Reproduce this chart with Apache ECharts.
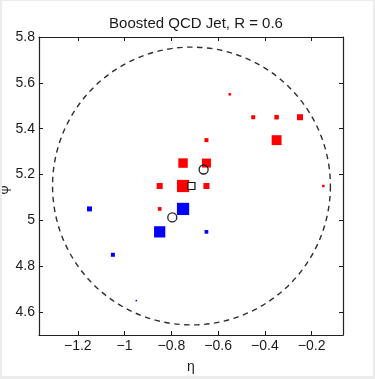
<!DOCTYPE html>
<html>
<head>
<meta charset="utf-8">
<script src="https://cdn.jsdelivr.net/npm/echarts@6/dist/echarts.min.js"></script>
<style>
  html, body { margin: 0; padding: 0; background: #ffffff; }
  #wrap { position: relative; width: 375px; height: 379px; }
  #chart { position: absolute; left: 0; top: 0; width: 375px; height: 379px; }
  #frame { position: absolute; left: 0; top: 0; width: 375px; height: 379px; box-sizing: border-box;
           border-style: solid; border-color: #ececec; border-width: 1px 2px 3px 2px; pointer-events: none; }
</style>
</head>
<body>
<div id="wrap"><div id="chart"></div><div id="frame"></div></div>
<script>
// Calorimeter cells of a boosted QCD jet in the (eta, phi) plane.
// Positive-weight cells (red)
const redEta = [-0.55, -0.45, -0.35, -0.25, -0.35, -0.65, -0.75, -0.65, -0.85, -0.75, -0.65, -0.85, -0.15];
const redPhi = [5.55, 5.45, 5.45, 5.45, 5.35, 5.35, 5.25, 5.25, 5.15, 5.15, 5.15, 5.05, 5.15];
const redEt  = [1.1, 2.8, 3.5, 6.3, 17, 2.8, 15.5, 14, 6.3, 26, 6.3, 2.4, 1.1];

// Negative-weight cells (blue)
const blueEta = [-0.75, -0.85, -0.65, -1.15, -1.05, -0.95];
const bluePhi = [5.05, 4.95, 4.95, 5.05, 4.85, 4.65];
const blueEt  = [26, 22, 2.4, 4.3, 2.8, 0.4];

// Subjet axes (open circles) and the jet axis (open square)
const subjetEta = [-0.662, -0.796];
const subjetPhi = [5.222, 5.013];
const jetEta = [-0.714];
const jetPhi = [5.15];
const jetR = 0.6;

// Axis ranges and tick labels
const etaRange = [-1.366, -0.066];
const phiRange = [4.5, 5.8];
const etaTicks = [-1.2, -1.0, -0.8, -0.6, -0.4, -0.2];
const phiTicks = [4.6, 4.8, 5.0, 5.2, 5.4, 5.6, 5.8];

const FONT = '"Liberation Sans", Arial, Helvetica, sans-serif';
const INK = '#1a1a1a';

function cellSize(et) { return 2.4 * Math.sqrt(et); }
function fmt(v) {
  const s = String(Math.round(v * 10) / 10);
  return s.replace('-', '\u2212');
}
function zip(a, b) { return a.map((v, i) => [v, b[i]]); }

const tickStyle = { show: true, inside: true, length: 4, lineStyle: { color: INK, width: 1 } };
const lineStyle = { show: true, onZero: false, lineStyle: { color: '#222', width: 1.2 } };

const chart = echarts.init(document.getElementById('chart'), null, { renderer: 'canvas' });
chart.setOption({
  animation: false,
  backgroundColor: 'transparent',
  title: {
    text: 'Boosted QCD Jet, R = 0.6',
    left: 191, top: 11, textAlign: 'center',
    textStyle: { fontFamily: FONT, fontSize: 15, fontWeight: 'normal', color: INK }
  },
  grid: { left: 39, top: 37, right: 32, bottom: 37, containLabel: false },
  xAxis: [{
    type: 'value', min: etaRange[0], max: etaRange[1], position: 'bottom',
    axisLine: lineStyle,
    axisTick: Object.assign({ customValues: etaTicks }, tickStyle),
    axisLabel: { customValues: etaTicks, formatter: fmt, margin: 4, fontFamily: FONT, fontSize: 14, color: INK },
    splitLine: { show: false },
    name: '\u03b7', nameLocation: 'middle', nameGap: 25,
    nameTextStyle: { fontFamily: FONT, fontSize: 14, color: INK }
  }, {
    type: 'value', min: etaRange[0], max: etaRange[1], position: 'top',
    axisLine: lineStyle,
    axisTick: Object.assign({ customValues: etaTicks }, tickStyle),
    axisLabel: { show: false }, splitLine: { show: false }
  }],
  yAxis: [{
    type: 'value', min: phiRange[0], max: phiRange[1], position: 'left',
    axisLine: lineStyle,
    axisTick: Object.assign({ customValues: phiTicks }, tickStyle),
    axisLabel: { customValues: phiTicks, formatter: fmt, margin: 4, fontFamily: FONT, fontSize: 14, color: INK },
    splitLine: { show: false }
  }, {
    type: 'value', min: phiRange[0], max: phiRange[1], position: 'right',
    axisLine: lineStyle,
    axisTick: Object.assign({ customValues: phiTicks }, tickStyle),
    axisLabel: { show: false }, splitLine: { show: false }
  }],
  graphic: [{
    type: 'text', x: 4, y: 190, rotation: Math.PI / 2,
    style: { text: '\u03c6', font: '14px ' + FONT, fill: INK, textAlign: 'center', textVerticalAlign: 'middle' }
  }],
  series: [{
    // jet cone of radius R around the jet axis
    type: 'custom', silent: true, z: 1,
    data: zip(jetEta, jetPhi),
    renderItem: function (params, api) {
      const c = api.coord([api.value(0), api.value(1)]);
      const s = api.size([jetR, jetR]);
      return {
        type: 'circle',
        shape: { cx: c[0], cy: c[1], r: (s[0] + s[1]) / 2 },
        style: { fill: null, stroke: '#2e2e2e', lineWidth: 1.4, lineDash: [5.5, 4.5] }
      };
    }
  }, {
    type: 'scatter', z: 2, symbol: 'rect',
    data: zip(redEta, redPhi).map((p, i) => ({ value: p, symbolSize: cellSize(redEt[i]) })),
    itemStyle: { color: '#ff0000', opacity: 1 }
  }, {
    type: 'scatter', z: 2, symbol: 'rect',
    data: zip(blueEta, bluePhi).map((p, i) => ({ value: p, symbolSize: cellSize(blueEt[i]) })),
    itemStyle: { color: '#0000ff', opacity: 1 }
  }, {
    type: 'scatter', z: 3, symbol: 'circle', symbolSize: 9,
    data: zip(subjetEta, subjetPhi),
    itemStyle: { color: 'rgba(0,0,0,0)', borderColor: '#222', borderWidth: 1.3, opacity: 1 }
  }, {
    type: 'scatter', z: 3, symbol: 'rect', symbolSize: 7,
    data: zip(jetEta, jetPhi),
    itemStyle: { color: '#ffffff', borderColor: '#111', borderWidth: 1.2, opacity: 1 }
  }]
});
</script>
</body>
</html>
